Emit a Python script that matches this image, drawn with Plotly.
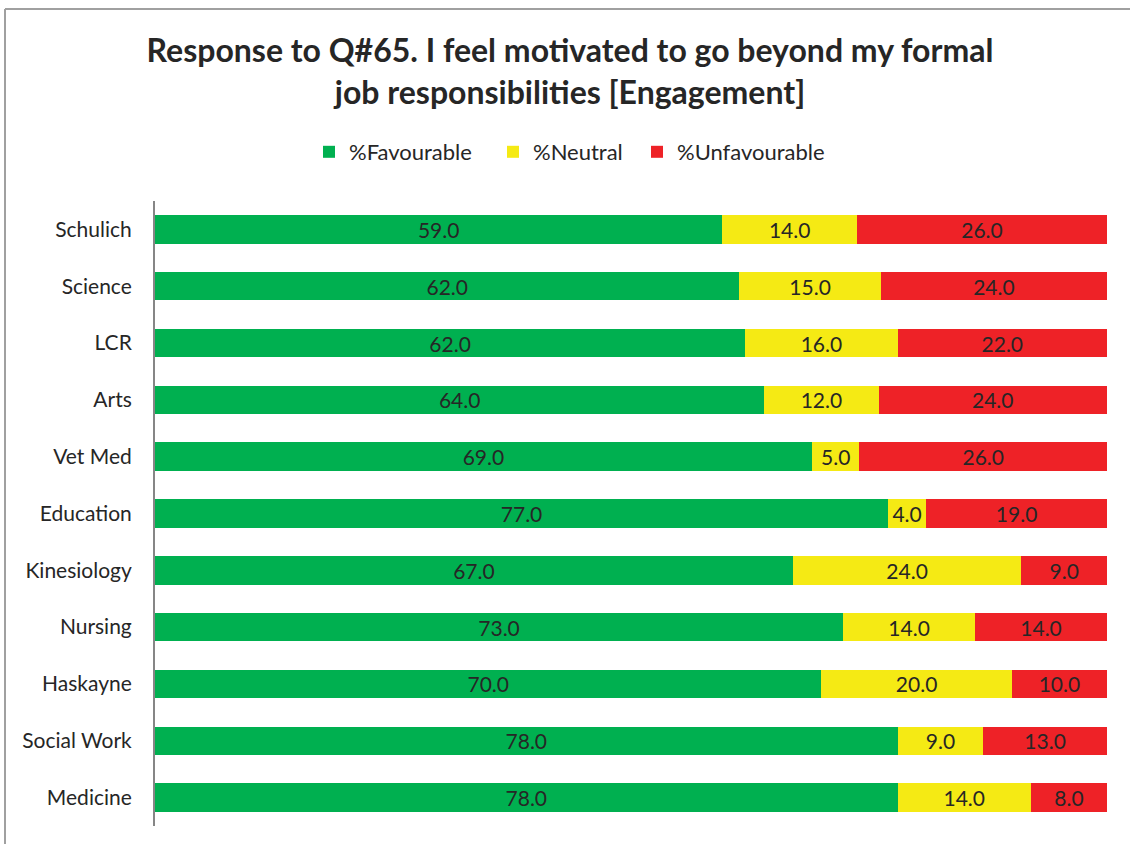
import plotly.graph_objects as go

categories = ["Schulich", "Science", "LCR", "Arts", "Vet Med", "Education",
              "Kinesiology", "Nursing", "Haskayne", "Social Work", "Medicine"]
favourable = [59, 62, 62, 64, 69, 77, 67, 73, 70, 78, 78]
neutral = [14, 15, 16, 12, 5, 4, 24, 14, 20, 9, 14]
unfavourable = [26, 24, 22, 24, 26, 19, 9, 14, 10, 13, 8]

series = [
    ("%Favourable", favourable, "#00B050", "legend"),
    ("%Neutral", neutral, "#F5EA14", "legend2"),
    ("%Unfavourable", unfavourable, "#EE2227", "legend3"),
]

FONT = "Lato"
TXT = "#262626"
W, H = 1130, 844
L, R, T, B = 155, 23, 201, 18
pw, ph = W - L - R, H - T - B


def px_to_paper_x(px):
    return (px - L) / pw


def py_to_paper_y(py):
    return (H - B - py) / ph


fig = go.Figure()
for name, vals, col, leg in series:
    fig.add_trace(go.Bar(
        y=categories, x=vals, name=name, orientation="h",
        marker=dict(color=col, line=dict(width=0)),
        text=[f"{v:.1f}" for v in vals], textposition="inside",
        insidetextanchor="middle", textangle=0,
        textfont=dict(family=FONT, size=21, color=TXT),
        hoverinfo="skip", legend=leg,
    ))

leg_common = dict(orientation="h", xanchor="left", yanchor="middle",
                  y=py_to_paper_y(152), font=dict(family=FONT, size=22, color=TXT),
                  bgcolor="rgba(0,0,0,0)")
leg_x = [309, 493, 637]

fig.update_layout(
    width=W, height=H,
    barmode="stack", barnorm="percent", bargap=0.5,
    margin=dict(l=L, r=R, t=T, b=B, autoexpand=False),
    paper_bgcolor="white", plot_bgcolor="white",
    font=dict(family=FONT, color=TXT),
    title=dict(
        text="<b>Response to Q#65. I feel motivated to go beyond my formal<br>job responsibilities [Engagement]</b>",
        x=570 / W, xanchor="center", xref="container",
        y=1 - 62 / H, yanchor="top", yref="container",
        font=dict(family=FONT, size=32, color=TXT),
    ),
    legend=dict(x=px_to_paper_x(leg_x[0]), **leg_common),
    legend2=dict(x=px_to_paper_x(leg_x[1]), **leg_common),
    legend3=dict(x=px_to_paper_x(leg_x[2]), **leg_common),
    uniformtext=dict(minsize=21, mode="show"),
    xaxis=dict(range=[0, 100], showgrid=False, showticklabels=False,
               zeroline=False, showline=False, fixedrange=True),
    yaxis=dict(autorange="reversed", showgrid=False, showline=True,
               linecolor="#868686", linewidth=2, ticks="", ticklen=0,
               tickfont=dict(family=FONT, size=21, color=TXT),
               ticklabelstandoff=17, zeroline=False),
    showlegend=True,
)

# outer chart frame (top and left edges visible)
fig.add_shape(type="line", xref="paper", yref="paper",
              x0=px_to_paper_x(5), x1=px_to_paper_x(1135),
              y0=py_to_paper_y(9), y1=py_to_paper_y(9),
              line=dict(color="#A0A0A0", width=2), layer="below")
fig.add_shape(type="line", xref="paper", yref="paper",
              x0=px_to_paper_x(5), x1=px_to_paper_x(5),
              y0=py_to_paper_y(9), y1=py_to_paper_y(850),
              line=dict(color="#A0A0A0", width=2), layer="below")

fig.write_html("out.html", config={"displayModeBar": False},
               post_script="document.body.style.margin='0px';")
